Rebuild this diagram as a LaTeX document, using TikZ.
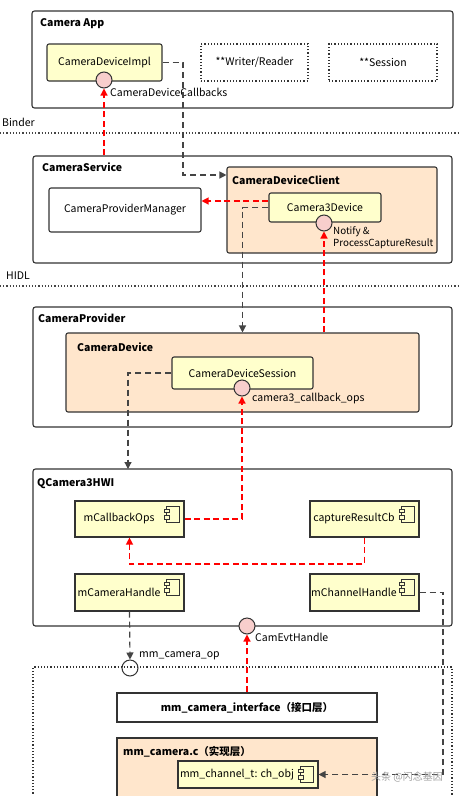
\documentclass[tikz,border=0pt]{standalone}
\usepackage{fontspec}
\setmainfont{Noto Sans CJK SC}
\usetikzlibrary{arrows.meta,calc}
\definecolor{bord}{HTML}{333333}
\definecolor{yel}{HTML}{FFFFCC}
\definecolor{peach}{HTML}{FFE6CC}
\definecolor{pink}{HTML}{F8CECC}
\definecolor{gline}{HTML}{444444}
\definecolor{rline}{HTML}{FF0000}
\newcommand{\compicon}[1]{%
  \draw[bord,line width=0.9pt,fill=yel] ($(#1.north east)+(-18,5.5)$) rectangle ++(13,16.5);
  \draw[bord,line width=0.9pt,fill=yel] ($(#1.north east)+(-20.5,8.5)$) rectangle ++(5,3.5);
  \draw[bord,line width=0.9pt,fill=yel] ($(#1.north east)+(-20.5,15)$) rectangle ++(5,3.5);
}
\begin{document}
\begin{tikzpicture}[x=1pt,y=-1pt,
  every node/.style={font=\fontsize{10.5}{12}\selectfont, inner sep=0pt},
  outer/.style={draw=bord, line width=1.1pt, rounded corners=2.5pt, fill=white},
  inbox/.style={draw=bord, line width=1.1pt, rounded corners=2pt, fill=yel},
  peachbox/.style={draw=bord, line width=1.1pt, rounded corners=2pt, fill=peach},
  plainbox/.style={draw=bord, line width=1.1pt, fill=white},
  compbox/.style={draw=bord, line width=1.1pt, fill=yel},
  dotbox/.style={draw=bord, line width=1.1pt, dash pattern=on 1.2pt off 2pt},
  sepline/.style={draw=gline, line width=1.1pt, dash pattern=on 1.2pt off 2pt},
  ttl/.style={font=\fontsize{10.5}{12}\selectfont\bfseries, anchor=west},
  lbl/.style={anchor=west},
  iface/.style={draw=bord, line width=1pt, circle, minimum size=16pt, fill=pink},
  gdash/.style={draw=gline, line width=1.2pt, dash pattern=on 6pt off 4pt},
  rdash/.style={draw=rline, line width=1.2pt, dash pattern=on 6pt off 3.5pt},
  garr/.style={-{Triangle[length=7pt,width=7pt]}, gdash},
  rarr/.style={-{Triangle[length=7pt,width=7pt,fill=rline]}, rdash},
]
\useasboundingbox (0,0) rectangle (459,796);
\clip (0,0) rectangle (459,796);
\fill[white] (0,0) rectangle (459,796);

% ---------- Camera App ----------
\node[outer, minimum width=421pt, minimum height=97pt] (app) at (242.5,59.5) {};
\node[ttl] (appt) at (40,24) {Camera App};
\node[inbox, minimum width=115pt, minimum height=37pt] (impl) at (104.5,62.5) {CameraDeviceImpl};
\node[dotbox, minimum width=107pt, minimum height=37pt] (wr) at (254.5,62.5) {**Writer/Reader};
\node[dotbox, minimum width=108pt, minimum height=37pt] (ses) at (383,62.5) {**Session};
\node[iface] (cbc) at (104,80) {};
\node[lbl] (cbl) at (110,92) {CameraDeviceCallbacks};

% Binder separator
\node[lbl] (binder) at (2,122) {Binder};
\coordinate (b1) at (0,133);
\coordinate (b2) at (459,133);
\draw[sepline] (b1) -- (b2);

% ---------- CameraService ----------
\node[outer, minimum width=419pt, minimum height=107pt] (service) at (242.5,209.5) {};
\node[ttl] (servicet) at (42,167) {CameraService};
\node[plainbox, rounded corners=2pt, minimum width=152pt, minimum height=44pt] (cpm) at (125,210) {CameraProviderManager};
\node[peachbox, minimum width=210pt, minimum height=86pt] (client) at (332,210) {};
\node[ttl] (clientt) at (232,180) {CameraDeviceClient};
\node[inbox, minimum width=112pt, minimum height=29pt] (c3d) at (325,207.5) {Camera3Device};
\node[iface] (c3dc) at (324,223) {};
\node[anchor=north west, align=left, font=\fontsize{9.8}{12}\selectfont] (c3dl) at (333,226) {Notify \&\\ProcessCaptureResult};

% HIDL separator
\node[lbl] (hidl) at (6,276) {HIDL};
\coordinate (h1) at (0,286);
\coordinate (h2) at (459,286);
\draw[sepline] (h1) -- (h2);

% ---------- CameraProvider ----------
\node[outer, minimum width=419pt, minimum height=120pt] (provider) at (242.5,367) {};
\node[ttl] (providert) at (38,318) {CameraProvider};
\node[peachbox, minimum width=353pt, minimum height=79pt] (device) at (242.5,372.5) {};
\node[ttl] (devicet) at (77,347) {CameraDevice};
\node[inbox, minimum width=141pt, minimum height=32pt] (cds) at (242.5,373) {CameraDeviceSession};
\node[iface] (cdsc) at (242,388) {};
\node[lbl] (cdsl) at (252,399) {camera3\_callback\_ops};

% ---------- QCamera3HWI ----------
\node[outer, minimum width=419pt, minimum height=157pt] (hwi) at (242.5,547.5) {};
\node[ttl] (hwit) at (37,484) {QCamera3HWI};
\node[compbox, minimum width=109pt, minimum height=36pt] (cbops) at (129.5,519) {};
\node (cbopst) at (119,519) {mCallbackOps};
\compicon{cbops}
\node[compbox, minimum width=109pt, minimum height=36pt] (crcb) at (364.5,519) {};
\node (crcbt) at (354,519) {captureResultCb};
\compicon{crcb}
\node[compbox, minimum width=109pt, minimum height=37pt] (camh) at (129.5,592.5) {};
\node (camht) at (119,592.5) {mCameraHandle};
\compicon{camh}
\node[compbox, minimum width=109pt, minimum height=37pt] (chh) at (364.5,592.5) {};
\node (chht) at (354,592.5) {mChannelHandle};
\compicon{chh}
\node[iface] (evc) at (247,626) {};
\node[lbl] (evl) at (255,637) {CamEvtHandle};

% ---------- mm-camera ----------
\node[iface, fill=white] (opc) at (130,668) {};
\node[lbl] (opl) at (139,656) {mm\_camera\_op};
\coordinate (d1) at (33,667);
\coordinate (d2) at (452,667);
\coordinate (d3) at (452,800);
\coordinate (d4) at (33,800);
\draw[dotbox] (d4) -- (d1) -- (d2) -- (d3);
\node[plainbox, minimum width=260pt, minimum height=29pt, font=\fontsize{10.5}{12}\selectfont\bfseries] (mif) at (247,707.5) {mm\_camera\_interface（接口层）};
\coordinate (m1) at (117,738);
\coordinate (m2) at (377,805);
\draw[draw=bord, line width=1.1pt, fill=peach] (m1) rectangle (m2);
\node[ttl] (mmct) at (123,752) {mm\_camera.c（实现层）};
\node[compbox, minimum width=140pt, minimum height=27pt] (chobj) at (248,774.5) {};
\node (chobjt) at (237,774.5) {mm\_channel\_t: ch\_obj};
\compicon{chobj}

% ---------- connectors ----------
\coordinate (k1) at (183,175);
\draw[garr] (impl.east) -| (k1) -- (k1 -| client.west);
\draw[rarr] (cbc |- service.north) -- (cbc.south);
\coordinate (k2) at (269,201);
\draw[rarr] (k2 -| c3d.west) -- (k2 -| cpm.east);
\draw[garr] (c3d.west) -| (device.north);
\draw[rarr] (c3dc |- device.north) -- (c3dc.south);
\coordinate (k3) at (128,469);
\draw[garr] (cds.west) -| (k3);
\draw[rarr] (cbops.east) -| (cdsc.south);
\coordinate (k4) at (364.5,564);
\coordinate (k5) at (129.5,564);
\draw[rarr] (crcb.south) -- (k4) -- (k5) -- (cbops.south);
\draw[garr] (camh.south) -- (opc.north);
\draw[rarr] (mif.north) -- (evc.south);
\coordinate (k6) at (443,592.5);
\draw[garr] (chh.east) -- (k6) |- (chobj.east);

% watermark
\node[text=gray!75, font=\fontsize{10}{12}\selectfont] (wm) at (407,777) {头条 @闪念基因};
\end{tikzpicture}
\end{document}
